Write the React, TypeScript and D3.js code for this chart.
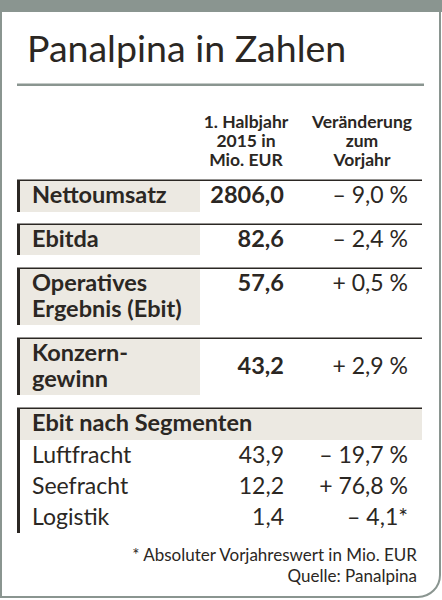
import React from "react";
import * as d3 from "d3";

const title = "Panalpina in Zahlen";
const colHeadValue = ["1. Halbjahr", "2015 in", "Mio. EUR"];
const colHeadChange = ["Veränderung", "zum", "Vorjahr"];

const mainLabels = [["Nettoumsatz"], ["Ebitda"], ["Operatives", "Ergebnis (Ebit)"], ["Konzern-", "gewinn"]];
const mainValues = [2806.0, 82.6, 57.6, 43.2];
const mainChanges = [-9.0, -2.4, 0.5, 2.9];

const segmentTitle = "Ebit nach Segmenten";
const segmentLabels = ["Luftfracht", "Seefracht", "Logistik"];
const segmentValues = [43.9, 12.2, 1.4];
const segmentChanges = [-19.7, 76.8, -4.1];
const segmentUnits = [" %", " %", "*"];

const footnote = "* Absoluter Vorjahreswert in Mio. EUR";
const source = "Quelle: Panalpina";

const W = 442;
const H = 600;
const FONT = "Lato, 'Open Sans', sans-serif";
const INK = "#2b2723";
const FRAME = "#8a9590";
const BEIGE = "#ece9e2";

const locale = d3.formatLocale({ decimal: ",", thousands: "", grouping: [3], currency: ["", " €"] });
const fmt = locale.format(".1f");
const fmtChange = (v: number, unit: string) => (v < 0 ? "– " : "+ ") + fmt(Math.abs(v)) + unit;

// layout
const xLeft = 17;
const xRight = 422;
const xLabel = 32;
const xValue = 284;
const xChange = 408;
const mainTops = [180, 224, 268, 338];
const mainBottoms = [212, 255, 325, 395];
const lineH = 26;
const FS_B = 23.5;
const FS_R = 23;

export default function App() {
  const yRows = d3.scaleLinear().domain([0, 2]).range([463, 525]);
  return (
    <div style={{ position: "fixed", left: 0, top: 0 }}>
      <svg width={W} height={H} style={{ display: "block" }} fontFamily={FONT}>
        <rect width={W} height={H} fill="#fff" />
        {/* frame */}
        <rect x={0} y={0} width={W} height={12} fill={FRAME} />
        <path
          d={`M1,0 V597 H418 A22,22 0 0 0 440,575 V0`}
          fill="none"
          stroke={FRAME}
          strokeWidth={2}
        />
        <text x={27} y={62} fontSize={37.5} fill={INK}>{title}</text>
        <rect x={xLeft} y={83.5} width={xRight + 2 - xLeft} height={2.5} fill={FRAME} />
        {colHeadValue.map((t, i) => (
          <text key={"hv" + i} x={246} y={128 + i * 19} fontSize={17.5} fontWeight={700} textAnchor="middle" fill={INK}>{t}</text>
        ))}
        {colHeadChange.map((t, i) => (
          <text key={"hc" + i} x={362} y={128 + i * 19} fontSize={17.5} fontWeight={700} textAnchor="middle" fill={INK}>{t}</text>
        ))}
        {mainLabels.map((lines, i) => {
          const top = mainTops[i];
          const bottom = mainBottoms[i];
          const first = top + 23;
          const valueY = i === 3 ? (first + first + lineH) / 2 : first;
          return (
            <g key={"m" + i}>
              <rect x={xLeft + 3} y={top} width={200 - xLeft - 3} height={bottom - top} fill={BEIGE} />
              <rect x={xLeft} y={top} width={3} height={bottom - top} fill={INK} />
              <rect x={xLeft} y={top - 0.5} width={xRight - xLeft} height={1.5} fill={INK} />
              {lines.map((t, j) => (
                <text key={j} x={xLabel} y={first + j * lineH} fontSize={FS_B} fontWeight={700} fill={INK}>{t}</text>
              ))}
              <text x={xValue} y={valueY} fontSize={FS_B} fontWeight={700} textAnchor="end" fill={INK}>{fmt(mainValues[i])}</text>
              <text x={xChange} y={valueY} fontSize={FS_R} textAnchor="end" fill={INK}>{fmtChange(mainChanges[i], " %")}</text>
            </g>
          );
        })}
        <g>
          <rect x={xLeft + 3} y={408} width={xRight - xLeft - 3} height={32} fill={BEIGE} />
          <rect x={xLeft} y={408} width={3} height={125} fill={INK} />
          <rect x={xLeft} y={407.5} width={xRight - xLeft} height={1.5} fill={INK} />
          <text x={xLabel} y={431} fontSize={FS_B} fontWeight={700} fill={INK}>{segmentTitle}</text>
          {segmentLabels.map((t, i) => (
            <g key={"s" + i}>
              <text x={xLabel} y={yRows(i)} fontSize={FS_R} fill={INK}>{t}</text>
              <text x={xValue} y={yRows(i)} fontSize={FS_R} textAnchor="end" fill={INK}>{fmt(segmentValues[i])}</text>
              <text x={xChange} y={yRows(i)} fontSize={FS_R} textAnchor="end" fill={INK}>{fmtChange(segmentChanges[i], segmentUnits[i])}</text>
            </g>
          ))}
        </g>
        <text x={417} y={561} fontSize={17} textAnchor="end" fill={INK}>{footnote}</text>
        <text x={417} y={582} fontSize={17} textAnchor="end" fill={INK}>{source}</text>
      </svg>
    </div>
  );
}
